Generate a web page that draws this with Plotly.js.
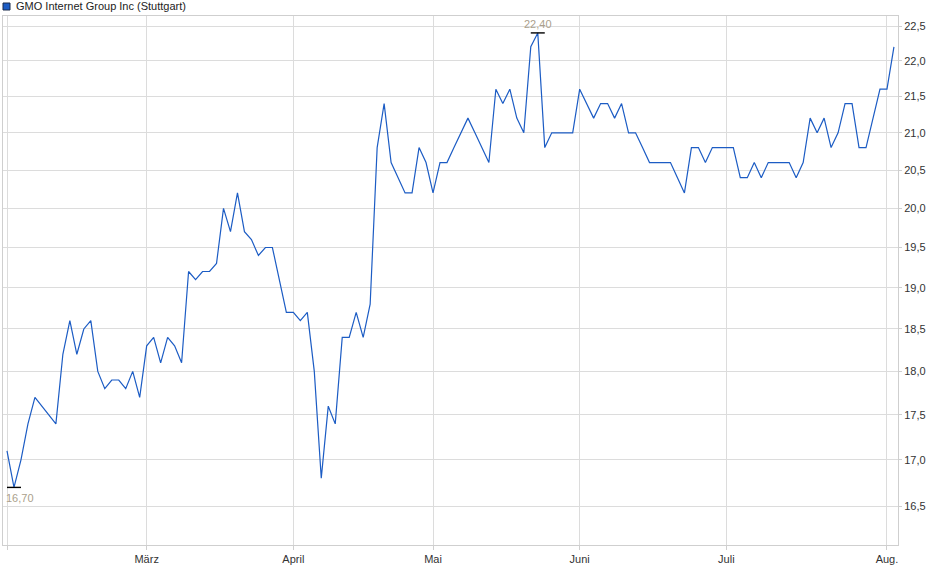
<!DOCTYPE html>
<html>
<head>
<meta charset="utf-8">
<script src="https://cdn.plot.ly/plotly-3.0.1.min.js"></script>
<style>
  html, body { margin: 0; padding: 0; background: #fff; }
  #chart { width: 940px; height: 579px; }
</style>
</head>
<body>
<div id="chart"></div>
<script>
// Daily closing prices (EUR), one per trading day, Feb -> early Aug
const prices = [
  17.1, 16.7, 17.0, 17.4, 17.7, 17.6, 17.5, 17.4, 18.2, 18.6,
  18.2, 18.5, 18.6, 18.0, 17.8, 17.9, 17.9, 17.8, 18.0, 17.7,
  18.3, 18.4, 18.1, 18.4, 18.3, 18.1, 19.2, 19.1, 19.2, 19.2,
  19.3, 20.0, 19.7, 20.2, 19.7, 19.6, 19.4, 19.5, 19.5, 19.1,
  18.7, 18.7, 18.6, 18.7, 18.0, 16.8, 17.6, 17.4, 18.4, 18.4,
  18.7, 18.4, 18.8, 20.8, 21.4, 20.6, 20.4, 20.2, 20.2, 20.8,
  20.6, 20.2, 20.6, 20.6, 20.8, 21.0, 21.2, 21.0, 20.8, 20.6,
  21.6, 21.4, 21.6, 21.2, 21.0, 22.2, 22.4, 20.8, 21.0, 21.0,
  21.0, 21.0, 21.6, 21.4, 21.2, 21.4, 21.4, 21.2, 21.4, 21.0,
  21.0, 20.8, 20.6, 20.6, 20.6, 20.6, 20.4, 20.2, 20.8, 20.8,
  20.6, 20.8, 20.8, 20.8, 20.8, 20.4, 20.4, 20.6, 20.4, 20.6,
  20.6, 20.6, 20.6, 20.4, 20.6, 21.2, 21.0, 21.2, 20.8, 21.0,
  21.4, 21.4, 20.8, 20.8, 21.2, 21.6, 21.6, 22.2
];

// first trading day of each month (index into prices)
const monthTickIdx = [0, 20, 41, 61, 82, 103, 126];
const monthLabels  = ['', 'März', 'April', 'Mai', 'Juni', 'Juli', 'Aug.'];

const priceTicks = [16.5, 17.0, 17.5, 18.0, 18.5, 19.0, 19.5, 20.0, 20.5, 21.0, 21.5, 22.0, 22.5];

const seriesName = 'GMO Internet Group Inc (Stuttgart)';

const LINE  = '#1c5cc4';
const GRID  = '#dcdcdc';
const FRAME = '#cfcfcf';
const FONT  = 'Liberation Sans, Arial, sans-serif';
const EXTREME_TXT = '#ab9f8c';

const days = prices.map((_, i) => i);
const maxVal = Math.max(...prices);
const minVal = Math.min(...prices);
const maxIdx = prices.indexOf(maxVal);
const minIdx = prices.indexOf(minVal);
const fmt = v => v.toFixed(2).replace('.', ',');

const priceTrace = {
  type: 'scatter',
  mode: 'lines',
  x: days,
  y: prices,
  line: { color: LINE, width: 1.2 },
  hoverinfo: 'skip',
  showlegend: false
};

// small black bars marking the high and the low
const extremaTrace = {
  type: 'scatter',
  mode: 'markers',
  x: [maxIdx, minIdx],
  y: [maxVal, minVal],
  marker: { symbol: 'line-ew-open', size: 10, color: '#000', line: { color: '#000', width: 1.4 } },
  hoverinfo: 'skip',
  showlegend: false,
  cliponaxis: false
};

const layout = {
  width: 940,
  height: 579,
  margin: { l: 3, r: 42, t: 16, b: 34, autoexpand: false },
  paper_bgcolor: '#fff',
  plot_bgcolor: '#fff',
  separators: ',.',
  font: { family: FONT, size: 11, color: '#333' },
  showlegend: false,
  xaxis: {
    range: [-0.573, 127.58],
    tickvals: monthTickIdx,
    ticktext: monthLabels,
    showgrid: true,
    gridcolor: GRID,
    gridwidth: 1,
    zeroline: false,
    showline: true,
    linecolor: FRAME,
    mirror: true,
    ticks: 'outside',
    ticklen: 4,
    tickcolor: FRAME,
    tickfont: { family: FONT, size: 11, color: '#333' }
  },
  yaxis: {
    type: 'log',
    side: 'right',
    range: [Math.log10(16.09), Math.log10(22.646)],
    tickvals: priceTicks,
    tickformat: '.1f',
    showgrid: true,
    gridcolor: GRID,
    gridwidth: 1,
    zeroline: false,
    showline: true,
    linecolor: FRAME,
    mirror: true,
    ticks: 'outside',
    ticklen: 3,
    tickcolor: FRAME,
    tickfont: { family: FONT, size: 11, color: '#333' }
  },
  shapes: [{
    type: 'rect',
    xref: 'paper', yref: 'paper',
    xsizemode: 'pixel', ysizemode: 'pixel',
    xanchor: 0, yanchor: 1,
    x0: 0, x1: 7, y0: 6, y1: 13,
    fillcolor: '#1c5cc4',
    line: { color: '#1a2a4a', width: 1 }
  }],
  annotations: [
    {
      xref: 'paper', yref: 'paper', x: 0, y: 1,
      xanchor: 'left', yanchor: 'middle',
      xshift: 11, yshift: 10,
      text: seriesName, showarrow: false,
      font: { family: FONT, size: 11, color: '#222' }
    },
    {
      x: maxIdx, y: Math.log10(maxVal),
      xanchor: 'center', yanchor: 'middle', yshift: 9,
      text: fmt(maxVal), showarrow: false,
      font: { family: FONT, size: 11, color: EXTREME_TXT }
    },
    {
      x: minIdx, y: Math.log10(minVal),
      xanchor: 'center', yanchor: 'middle', yshift: -11, xshift: 6,
      text: fmt(minVal), showarrow: false,
      font: { family: FONT, size: 11, color: EXTREME_TXT }
    }
  ]
};

Plotly.newPlot('chart', [priceTrace, extremaTrace], layout, { displayModeBar: false, staticPlot: true });
</script>
</body>
</html>
